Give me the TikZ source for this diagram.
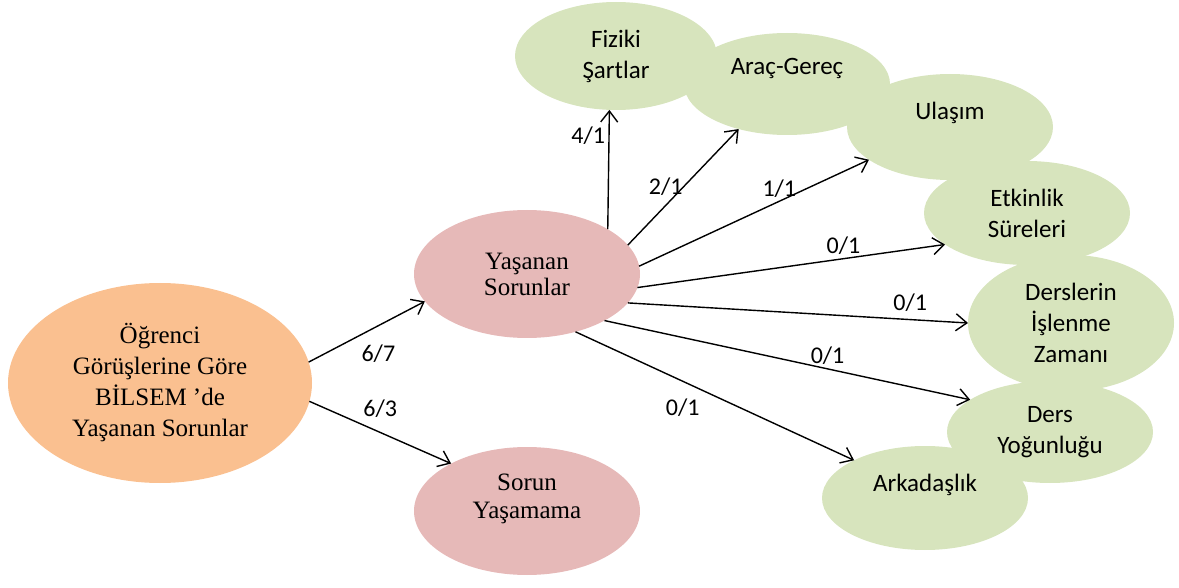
\documentclass[tikz,border=0pt]{standalone}
\usepackage{fontspec}
\setmainfont{Liberation Serif}
\newfontfamily\calibri{Carlito}
\usetikzlibrary{arrows.meta,shapes.geometric}

\definecolor{peach}{HTML}{FAC090}
\definecolor{rose}{HTML}{E6B9B8}
\definecolor{sage}{HTML}{D7E4BD}

\begin{document}
\begin{tikzpicture}[x=1pt,y=-1pt,>={Straight Barb[length=11pt,width=17pt]}]
\tikzstyle{bubble} = [ellipse, inner sep=0pt, outer sep=0pt, align=center]
\tikzstyle{main} = [bubble, fill=peach, font=\fontsize{25}{31}\selectfont]
\tikzstyle{problem} = [bubble, fill=rose, minimum width=226, minimum height=128,
font=\fontsize{25}{26}\selectfont]
\tikzstyle{topic} = [bubble, fill=sage, minimum width=206, minimum height=104,
font=\calibri\fontsize{25}{31}\selectfont]
\tikzstyle{ptext} = [align=center, font=\fontsize{25}{28}\selectfont]
\tikzstyle{gtext} = [align=center, font=\calibri\fontsize{25}{31}\selectfont]
\tikzstyle{ratio} = [font=\calibri\fontsize{24}{28}\selectfont]
\tikzstyle{line} = [draw, line width=1.4pt, ->]

\useasboundingbox (0,0) rectangle (1179,588);

% left side
\node [main, minimum width=304, minimum height=200] (gorus) at (160,383)
{Öğrenci\\Görüşlerine Göre\\BİLSEM ’de\\Yaşanan Sorunlar};
\node [problem] (yasanan) at (527,274) {Yaşanan\\Sorunlar};
\node [problem, label={[name=yok-text, ptext, yshift=12]center:{Sorun\\Yaşamama}}]
(yok) at (527,511) {};

% problem areas
\node [topic, minimum width=202, minimum height=108] (fiziki) at (616,56) {Fiziki\\Şartlar};
\node [topic, minimum height=102, label={[name=arac-text, gtext, yshift=16]center:Araç-Gereç}]
(arac) at (787,84) {};
\node [topic, minimum height=106, label={[name=ulasim-text, gtext, yshift=14]center:Ulaşım}]
(ulasim) at (950,127) {};
\node [topic] (etkinlik) at (1027,213) {Etkinlik\\Süreleri};
\node [topic, minimum height=136] (dersler) at (1071,323) {Derslerin\\İşlenme\\Zamanı};
\node [topic, minimum height=102] (yogun) at (1050,432) {Ders\\Yoğunluğu};
\node [topic, label={[name=arkadas-text, gtext, yshift=13]center:Arkadaşlık}]
(arkadas) at (925,498) {};

\tikzstyle{every path}=[line]
\path (gorus.8) -- node[ratio, pos=0.6, below=15pt] {6/7} (yasanan.-165);
\path (gorus.-7) -- node[ratio, pos=0.5, above=11pt] {6/3} (yok.148);

\path (yasanan.29) -- node[ratio, pos=0.78, left] {4/1} (fiziki.-97);
\path (yasanan.16) -- node[ratio, pos=0.5, left, inner sep=0pt] {2/1} (arac.-137);
\path (yasanan.4) -- node[ratio, pos=0.61, above] {1/1} (ulasim.-158);
\path (yasanan.-7) -- node[ratio, pos=0.67, above] {0/1} (etkinlik.-159);
\path (yasanan.-16) -- node[ratio, pos=0.83, above=4pt] {0/1} (dersler.180);
\path (yasanan.-31) -- node[ratio, pos=0.61, above] {0/1} (yogun.158);
\path (yasanan.-50) -- node[ratio, pos=0.385, below=14pt] {0/1} (arkadas.152);
\end{tikzpicture}
\end{document}
